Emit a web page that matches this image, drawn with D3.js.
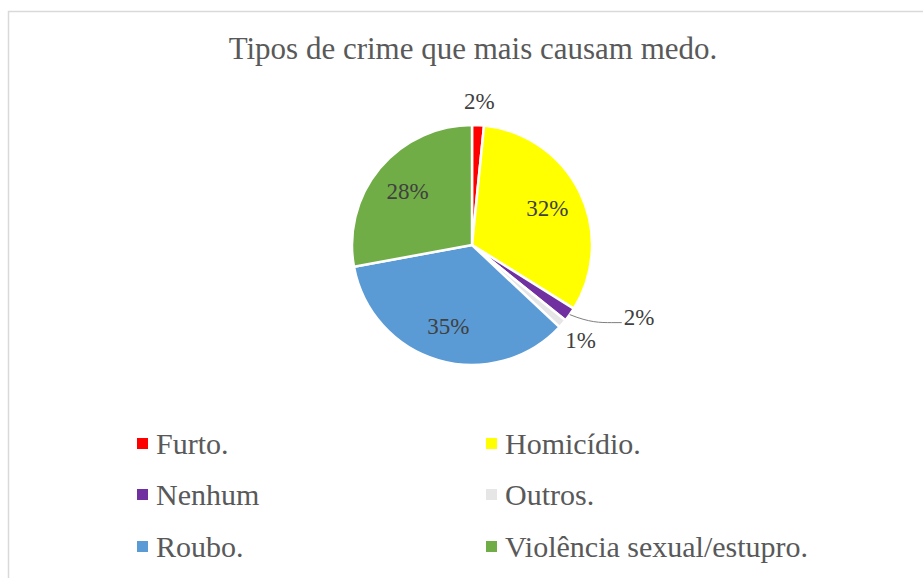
<!DOCTYPE html>
<html>
<head>
<meta charset="utf-8">
<script src="https://cdn.jsdelivr.net/npm/d3@7"></script>
<style>
  html, body { margin: 0; padding: 0; background: #fff; }
  svg text { font-family: "Liberation Serif", "DejaVu Serif", serif; }
</style>
</head>
<body>
<div id="chart"></div>
<script>
// Tipos de crime que mais causam medo
const TITLE      = "Tipos de crime que mais causam medo.";
const CATEGORIES = ["Furto.", "Homicídio.", "Nenhum", "Outros.", "Roubo.", "Violência sexual/estupro."];
const VALUES     = [1.6, 32.3, 1.9, 1.2, 35.1, 27.9];
const COLORS     = ["#ff0000", "#ffff00", "#7030a0", "#e7e6e6", "#5b9bd5", "#70ad47"];

const W = 923, H = 578;
const cx = 472, cy = 245, R = 120;
const fmtPct = d => Math.round(d) + "%";

const svg = d3.select("#chart").append("svg")
  .attr("width", W).attr("height", H);

// moldura
svg.append("rect")
  .attr("x", 8.5).attr("y", 11.5)
  .attr("width", W + 20).attr("height", H + 20)
  .attr("fill", "#fff").attr("stroke", "#d9d9d9").attr("stroke-width", 1.5);

// título
svg.append("text")
  .attr("x", 473).attr("y", 59)
  .attr("text-anchor", "middle")
  .attr("font-size", 31)
  .attr("fill", "#595959")
  .text(TITLE);

const data = CATEGORIES.map((c, i) => ({ cat: c, value: VALUES[i], color: COLORS[i] }));
const pie = d3.pie().sort(null).value(d => d.value)(data);
const arc = d3.arc().innerRadius(0).outerRadius(R);

const g = svg.append("g").attr("transform", `translate(${cx},${cy})`);

g.selectAll("path.slice")
  .data(pie).join("path")
    .attr("class", "slice")
    .attr("d", arc)
    .attr("fill", d => d.data.color)
    .attr("stroke", "#fff")
    .attr("stroke-width", 2.5)
    .attr("stroke-linejoin", "round");

// rótulos
const polar = (a, r) => [Math.sin(a) * r, -Math.cos(a) * r];
pie.forEach(d => {
  const mid = (d.startAngle + d.endAngle) / 2;
  const txt = g.append("text")
    .attr("font-size", 23)
    .attr("fill", "#404040")
    .attr("text-anchor", "middle")
    .attr("dy", "0.35em")
    .text(fmtPct(d.data.value));
  if (d.data.value >= 5) {
    const [x, y] = polar(mid, R * 0.7);
    txt.attr("x", x).attr("y", y);
  } else if (d.data.cat === "Nenhum") {
    // rótulo com linha guia
    const [x0, y0] = polar(mid, R);
    const yL = y0 + 8;
    g.append("path")
      .attr("d", `M${x0},${y0} C${x0 + 20},${yL} ${x0 + 30},${yL} ${x0 + 42},${yL} L${x0 + 52},${yL}`)
      .attr("fill", "none").attr("stroke", "#7f7f7f").attr("stroke-width", 1);
    txt.attr("text-anchor", "start").attr("x", x0 + 54).attr("y", yL - 6);
  } else {
    const [x, y] = polar(mid, R * 1.2);
    txt.attr("x", x).attr("y", y);
  }
});

// legenda
const legCols = [137, 486], legRows = [443, 494, 546];
const leg = svg.append("g").selectAll("g")
  .data(data).join("g")
    .attr("transform", (d, i) => `translate(${legCols[i % 2]},${legRows[Math.floor(i / 2)]})`);
leg.append("rect")
  .attr("x", 0).attr("y", -5).attr("width", 11).attr("height", 11)
  .attr("fill", d => d.color);
leg.append("text")
  .attr("x", 19).attr("y", 0).attr("dy", "0.35em")
  .attr("font-size", 30)
  .attr("fill", "#595959")
  .text(d => d.cat);
</script>
</body>
</html>
